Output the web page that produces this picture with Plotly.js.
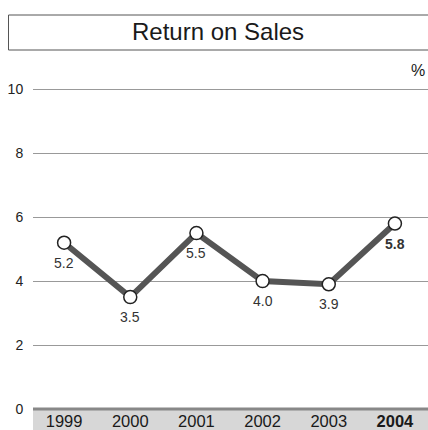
<!DOCTYPE html>
<html><head><meta charset="utf-8">
<script src="https://cdn.plot.ly/plotly-3.0.1.min.js"></script>
<style>body{margin:0;background:#fff}#c{width:428px;height:430px}</style>
</head><body><div id="c"></div>
<script>
const years = ['1999','2000','2001','2002','2003','2004'];
const values = [5.2, 3.5, 5.5, 4.0, 3.9, 5.8];
const yTicks = [0, 2, 4, 6, 8, 10];
const titleText = 'Return on Sales';
const unitText = '%';

const FONT = 'Liberation Sans';
const lastIdx = years.length - 1;
const tickText = years.map((y, i) => i === lastIdx ? '<b>' + y + '</b>' : y);

const trace = {
  x: years, y: values, type: 'scatter', mode: 'lines+markers',
  line: {color: '#555555', width: 6},
  marker: {size: 13, color: '#ffffff', line: {color: '#222222', width: 1.5}},
  cliponaxis: false, hoverinfo: 'skip'
};

// category axis: annotations positioned by category index
const labelAnns = values.map((v, i) => ({
  x: i, y: v, xref: 'x', yref: 'y', showarrow: false,
  text: i === lastIdx ? '<b>' + v.toFixed(1) + '</b>' : v.toFixed(1),
  yshift: -20, xanchor: 'center', yanchor: 'middle',
  font: {family: FONT, size: 14, color: '#333333'}
}));

const BOT = 409, TOP = 86;
const H = BOT - TOP;
const layout = {
  width: 428, height: 430,
  margin: {l: 33, r: 0, t: TOP, b: 430 - BOT},
  paper_bgcolor: '#ffffff', plot_bgcolor: '#ffffff',
  showlegend: false,
  font: {family: FONT, color: '#222222', size: 14},
  xaxis: {
    type: 'category', range: [-0.47, 5.5], showgrid: false, zeroline: false,
    showline: false, ticks: '', tickvals: years, ticktext: tickText,
    ticklabelstandoff: 0,
    tickfont: {family: FONT, size: 16.5, color: '#1a1a1a'}, fixedrange: true
  },
  yaxis: {
    range: [0, 10.1], tickvals: yTicks, ticktext: yTicks.map(String),
    showgrid: true, gridcolor: '#999999', gridwidth: 1,
    zeroline: false, showline: false, ticks: 'outside', ticklen: 6,
    tickcolor: 'rgba(0,0,0,0)',
    tickfont: {family: FONT, size: 14, color: '#222222'}, fixedrange: true
  },
  shapes: [
    {type: 'rect', xref: 'paper', yref: 'paper', x0: 0, x1: 1, y0: -22 / H, y1: 0,
     fillcolor: '#d7d7d7', line: {width: 0}, layer: 'below'},
    {type: 'line', xref: 'paper', yref: 'paper', x0: 0, x1: 1, y0: 0, y1: 0,
     line: {color: '#888888', width: 3}},
    {type: 'rect', xref: 'paper', yref: 'paper', x0: (8.5 - 33) / 395, x1: 1.01,
     y0: (BOT - 50) / H, y1: (BOT - 15) / H, fillcolor: 'rgba(0,0,0,0)',
     line: {color: '#555555', width: 1}}
  ],
  annotations: labelAnns.concat([
    {xref: 'paper', yref: 'paper', x: (218 - 33) / 395, y: (BOT - 31) / H,
     text: titleText, showarrow: false, xanchor: 'center', yanchor: 'middle',
     font: {family: FONT, size: 24, color: '#1a1a1a'}},
    {xref: 'paper', yref: 'paper', x: (427 - 33) / 395, y: (BOT - 70) / H,
     text: unitText, showarrow: false, xanchor: 'right', yanchor: 'middle',
     font: {family: FONT, size: 16, color: '#1a1a1a'}}
  ])
};

Plotly.newPlot('c', [trace], layout, {staticPlot: true, displayModeBar: false});
</script></body></html>
